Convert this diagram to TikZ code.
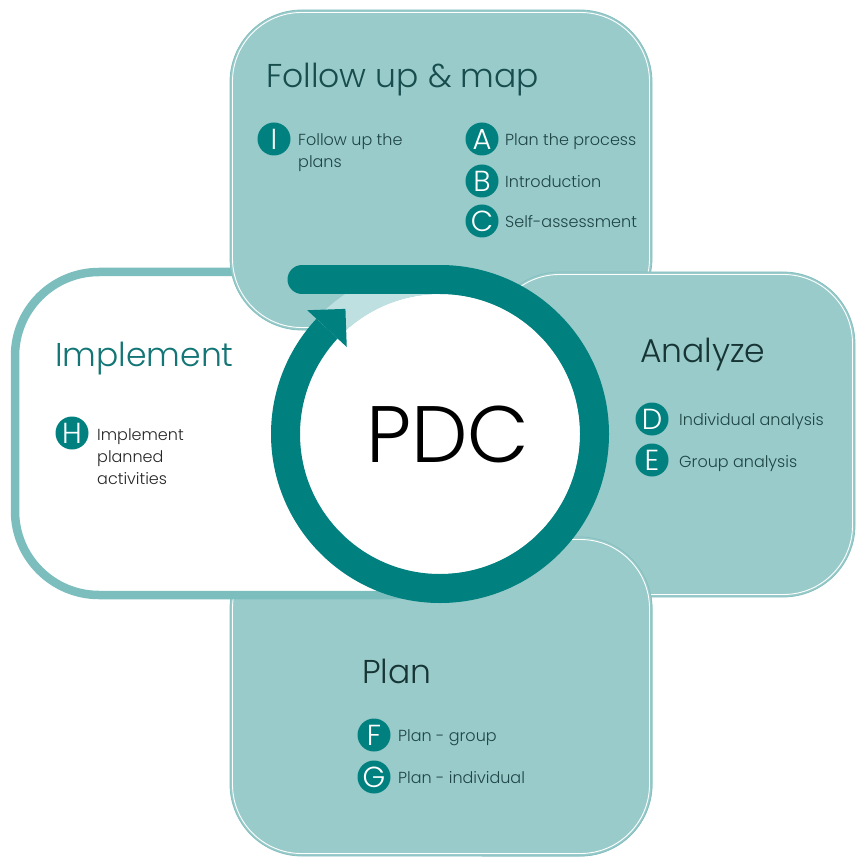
\documentclass[tikz,border=0pt]{standalone}
\usepackage{fontspec}
\IfFontExistsTF{Poppins Light}{\setmainfont{Poppins Light}}{\setmainfont{Poppins}}
\usetikzlibrary{calc}

\definecolor{pdcDark}{RGB}{0,128,126}
\definecolor{pdcLight}{RGB}{154,203,203}
\definecolor{pdcPale}{RGB}{191,224,224}
\definecolor{pdcRim}{RGB}{124,190,190}
\definecolor{pdcEdge}{RGB}{134,191,191}
\definecolor{pdcHead}{RGB}{23,77,77}
\definecolor{pdcImpl}{RGB}{19,117,117}
\definecolor{pdcInk}{RGB}{23,53,53}
\definecolor{pdcText}{RGB}{30,68,68}

\begin{document}
\begin{tikzpicture}[x=1pt,y=-1pt,
  panel/.style={fill=pdcLight, draw=pdcEdge, line width=0.8pt, rounded corners=72pt},
  rim/.style={draw=white, line width=0.9pt, rounded corners=69pt},
  title/.style={anchor=base west, inner sep=0pt, font=\fontsize{33}{40}\selectfont},
  item/.style={anchor=base west, inner sep=0pt, font=\fontsize{16}{20}\selectfont, text=pdcText},
  badge/.style={circle, fill=pdcDark, minimum size=33pt, inner sep=0pt, text=white,
    font=\fontsize{29}{29}\selectfont},
]
\useasboundingbox (0,0) rectangle (856,858);

% Plan panel
\path[panel] (230,537) rectangle (652,856);
\draw[rim] (232.5,539.5) rectangle (649.5,853.5);
% Implement panel: white with a teal frame
\draw[rounded corners=84pt, line width=8.5pt, draw=pdcRim, fill=white] (15,272) rectangle (478,595);
% Follow-up panel
\path[panel] (230,10) rectangle (652,330);
\draw[rim] (232.5,12.5) rectangle (649.5,327.5);
% Analyze panel
\path[panel] (488,272) rectangle (855,597);
\draw[rim] (490.5,274.5) rectangle (852.5,594.5);
% Plan panel again, right of the Implement frame, so it lies over Analyze
\begin{scope}
  \clip (482,500) rectangle (856,858);
  \path[panel] (230,537) rectangle (652,856);
  \draw[rim] (232.5,539.5) rectangle (649.5,853.5);
\end{scope}

% PDC cycle
\coordinate (c) at (440,434);
\fill[white] (c) circle[radius=140];
\fill[pdcPale] ($(c)+(223:169)$) arc[start angle=223, end angle=270, radius=169]
  -- ($(c)+(270:140)$) arc[start angle=270, end angle=223, radius=140] -- cycle;
\draw[pdcDark, line width=29pt, line cap=round] (302,279.5) -- (442,279.5);
\draw[pdcDark, line width=29pt] ($(c)+(270:154.5)$) arc[start angle=270, end angle=583, radius=154.5];
\fill[pdcDark] ($(c)+(223:181.5)$) -- ($(c)+(223:127.5)$) -- ($(c)+(223:154.5)+(313:27)$) -- cycle;
\node[anchor=base, inner sep=0pt, font=\fontsize{80}{82}\selectfont, text=black] (pdc) at (448,462) {PDC};

% Follow up & map
\node[title, text=pdcHead] (tFollow) at (266,88) {Follow up \& map};
\node[badge] (bI) at (274,139) {I};
\node[item] (xI1) at (298,146) {Follow up the};
\node[item] (xI2) at (298,168) {plans};
\node[badge] (bA) at (482,139) {A};
\node[item] (xA) at (505,146) {Plan the process};
\node[badge] (bB) at (482,181) {B};
\node[item] (xB) at (505,188) {Introduction};
\node[badge] (bC) at (482,221) {C};
\node[item] (xC) at (505,228) {Self-assessment};

% Implement
\node[title, text=pdcImpl] (tImpl) at (55,366) {Implement};
\node[badge] (bH) at (72,433) {H};
\node[item, text=black!85] (xH1) at (97,440) {Implement};
\node[item, text=black!85] (xH2) at (97,462) {planned};
\node[item, text=black!85] (xH3) at (97,484) {activities};

% Analyze
\node[title, text=pdcInk] (tAnalyze) at (640,362) {Analyze};
\node[badge] (bD) at (652,419) {D};
\node[item] (xD) at (679,425) {Individual analysis};
\node[badge] (bE) at (652,460) {E};
\node[item] (xE) at (679,467) {Group analysis};

% Plan
\node[title, text=pdcInk] (tPlan) at (362,683) {Plan};
\node[badge] (bF) at (374,735) {F};
\node[item] (xF) at (398,741) {Plan - group};
\node[badge] (bG) at (374,777) {G};
\node[item] (xG) at (398,783) {Plan - individual};
\end{tikzpicture}
\end{document}
